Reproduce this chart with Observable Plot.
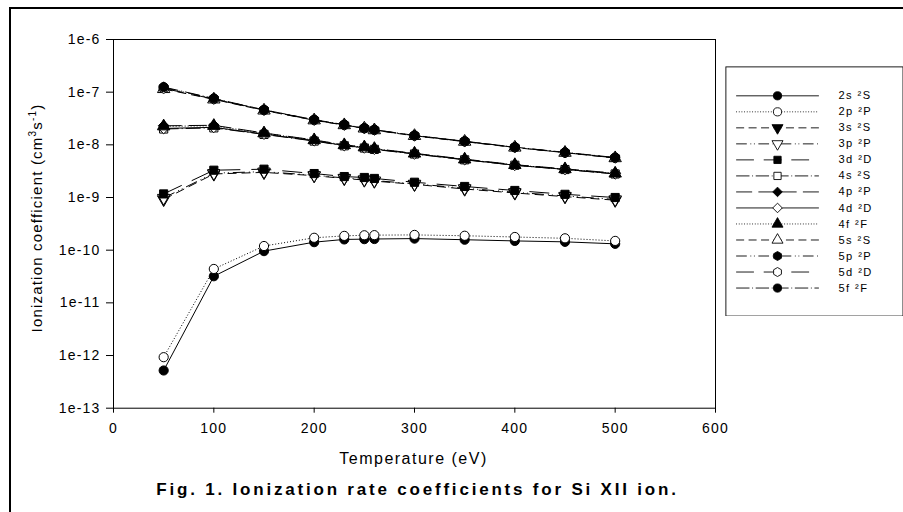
<!DOCTYPE html>
<html>
<head>
<meta charset="utf-8">
<script src="https://cdn.jsdelivr.net/npm/d3@7"></script>
<script src="https://cdn.jsdelivr.net/npm/@observablehq/plot@0.6"></script>
<style>
  body { margin: 0; background: #fff; }
  #fig { position: relative; width: 903px; height: 512px; overflow: hidden; background: #fff;
         font-family: "Liberation Sans", Arial, sans-serif; color: #000; }
  #border { position: absolute; left: 9px; top: 7px; width: 1000px; height: 1000px;
            border-top: 2px solid #000; border-left: 2px solid #000; }
  #chart { position: absolute; left: 0; top: 0; }
  #legend { position: absolute; left: 725px; top: 66px; }
  .ytitle { position: absolute; left: 36px; top: 218px; white-space: nowrap; font-size: 15px;
            letter-spacing: 1.2px; line-height: 15px; transform: translate(-50%, -50%) rotate(-90deg); }
  .ytitle sup { font-size: 10px; line-height: 0; vertical-align: 6px; }
  .xtitle { position: absolute; left: 413.5px; top: 450.5px; white-space: nowrap; font-size: 16px;
            letter-spacing: 1.5px; line-height: 16px; transform: translateX(-50%); }
  .caption { position: absolute; left: 417.5px; top: 480.6px; white-space: nowrap; font-size: 17px;
             font-weight: bold; letter-spacing: 2.8px; line-height: 17px; transform: translateX(-50%); }
</style>
</head>
<body>
<div id="fig">
  <div id="border"></div>
  <div id="chart"></div>
  <div id="legend"></div>
  <div class="ytitle">Ionization coefficient (cm<sup>3</sup>s<sup>-1</sup>)</div>
  <div class="xtitle">Temperature (eV)</div>
  <div class="caption">Fig. 1. Ionization rate coefficients for Si XII ion.</div>
</div>
<script>
// Electron temperatures (eV)
const temperature = [50, 100, 150, 200, 230, 250, 260, 300, 350, 400, 450, 500];

// Ionization rate coefficients (cm^3 s^-1) for each initial level
const rate2s = [5.2e-13, 3.2e-11, 9.6e-11, 1.42e-10, 1.6e-10, 1.62e-10, 1.63e-10, 1.66e-10, 1.58e-10, 1.5e-10, 1.44e-10, 1.32e-10];
const rate2p = [9.3e-13, 4.4e-11, 1.2e-10, 1.72e-10, 1.87e-10, 1.92e-10, 1.93e-10, 1.95e-10, 1.88e-10, 1.78e-10, 1.68e-10, 1.5e-10];
const rate3s = [9.2e-10, 2.8e-9, 3.0e-9, 2.6e-9, 2.3e-9, 2.15e-9, 2.05e-9, 1.78e-9, 1.45e-9, 1.22e-9, 1.04e-9, 8.9e-10];
const rate3p = [9.8e-10, 2.9e-9, 3.1e-9, 2.65e-9, 2.35e-9, 2.2e-9, 2.1e-9, 1.82e-9, 1.5e-9, 1.26e-9, 1.07e-9, 9.2e-10];
const rate3d = [1.17e-9, 3.3e-9, 3.45e-9, 2.85e-9, 2.5e-9, 2.4e-9, 2.3e-9, 1.95e-9, 1.62e-9, 1.36e-9, 1.15e-9, 1.0e-9];
const rate4s = [2.0e-8, 2.1e-8, 1.58e-8, 1.18e-8, 9.6e-9, 8.7e-9, 8.2e-9, 6.7e-9, 5.2e-9, 4.1e-9, 3.4e-9, 2.8e-9];
const rate4p = [2.3e-8, 2.35e-8, 1.68e-8, 1.24e-8, 1.0e-8, 9.1e-9, 8.5e-9, 6.9e-9, 5.35e-9, 4.2e-9, 3.5e-9, 2.9e-9];
const rate4d = [2.05e-8, 2.15e-8, 1.6e-8, 1.2e-8, 9.7e-9, 8.8e-9, 8.3e-9, 6.75e-9, 5.25e-9, 4.1e-9, 3.42e-9, 2.82e-9];
const rate4f = [2.25e-8, 2.3e-8, 1.66e-8, 1.23e-8, 9.9e-9, 9.0e-9, 8.4e-9, 6.85e-9, 5.3e-9, 4.15e-9, 3.46e-9, 2.86e-9];
const rate5s = [1.15e-7, 7.3e-8, 4.5e-8, 2.93e-8, 2.37e-8, 2.05e-8, 1.9e-8, 1.48e-8, 1.15e-8, 8.9e-9, 7.1e-9, 5.6e-9];
const rate5p = [1.22e-7, 7.5e-8, 4.6e-8, 2.98e-8, 2.4e-8, 2.07e-8, 1.93e-8, 1.5e-8, 1.17e-8, 9.0e-9, 7.15e-9, 5.7e-9];
const rate5d = [1.18e-7, 7.4e-8, 4.55e-8, 2.95e-8, 2.38e-8, 2.06e-8, 1.92e-8, 1.49e-8, 1.16e-8, 8.95e-9, 7.1e-9, 5.65e-9];
const rate5f = [1.25e-7, 7.6e-8, 4.62e-8, 3.0e-8, 2.42e-8, 2.08e-8, 1.94e-8, 1.51e-8, 1.17e-8, 9.05e-9, 7.2e-9, 5.75e-9];

const levelNames = ["2s ²S", "2p ²P", "3s ²S", "3p ²P", "3d ²D", "4s ²S", "4p ²P", "4d ²D", "4f ²F", "5s ²S", "5p ²P", "5d ²D", "5f ²F"];
const levelRates = [rate2s, rate2p, rate3s, rate3p, rate3d, rate4s, rate4p, rate4d, rate4f, rate5s, rate5p, rate5d, rate5f];

// Axis ticks
const xTicks = [0, 100, 200, 300, 400, 500, 600];
const yTicks = [1e-6, 1e-7, 1e-8, 1e-9, 1e-10, 1e-11, 1e-12, 1e-13];
const yTickLabels = ["1e-6", "1e-7", "1e-8", "1e-9", "1e-10", "1e-11", "1e-12", "1e-13"];

// Marker shapes (area-based, like d3 symbols)
const sqrt3 = Math.sqrt(3);
const triUp = { draw(c, size) { const y = -Math.sqrt(size / (sqrt3 * 3)); c.moveTo(0, y * 2); c.lineTo(-sqrt3 * y, -y); c.lineTo(sqrt3 * y, -y); c.closePath(); } };
const triDown = { draw(c, size) { const y = Math.sqrt(size / (sqrt3 * 3)); c.moveTo(0, y * 2); c.lineTo(-sqrt3 * y, -y); c.lineTo(sqrt3 * y, -y); c.closePath(); } };
const square = { draw(c, size) { const w = Math.sqrt(size), h = w / 2; c.rect(-h, -h, w, w); } };
const diamond = { draw(c, size) { const r = Math.sqrt(size) * 0.66; c.moveTo(0, -r); c.lineTo(r, 0); c.lineTo(0, r); c.lineTo(-r, 0); c.closePath(); } };
const circle = { draw(c, size) { const r = Math.sqrt(size / Math.PI); c.moveTo(r, 0); c.arc(0, 0, r, 0, 2 * Math.PI); } };
const hexagon = { draw(c, size) { const R = Math.sqrt(size / (1.5 * sqrt3)); for (let k = 0; k < 6; ++k) { const a = Math.PI / 6 + k * Math.PI / 3; const px = R * Math.cos(a), py = R * Math.sin(a); k ? c.lineTo(px, py) : c.moveTo(px, py); } c.closePath(); } };

// Line pattern, marker and fill for each level, in legend order
const styles = [
  { dash: null,              symbol: circle,  filled: true  },
  { dash: "1,2",             symbol: circle,  filled: false },
  { dash: "9,5",             symbol: triDown, filled: true  },
  { dash: "12,4,1,3,1,4",    symbol: triDown, filled: false },
  { dash: "20,11",           symbol: square,  filled: true  },
  { dash: "15,3,1,3",        symbol: square,  filled: false },
  { dash: "18,7",            symbol: diamond, filled: true  },
  { dash: null,              symbol: diamond, filled: false },
  { dash: "1,2",             symbol: triUp,   filled: true  },
  { dash: "9,5",             symbol: triUp,   filled: false },
  { dash: "12,4,1,3,1,4",    symbol: hexagon, filled: true  },
  { dash: "20,11",           symbol: hexagon, filled: false },
  { dash: "15,3,1,3",        symbol: circle,  filled: true  }
];

const markerR = 4.6;
const seriesMarks = [];
levelRates.forEach((rates, i) => {
  const st = styles[i];
  const rows = temperature.map((t, j) => ({ t, v: rates[j] }));
  seriesMarks.push(
    Plot.line(rows, { x: "t", y: "v", stroke: "#000", strokeWidth: 1, strokeLinecap: "butt", strokeLinejoin: "miter", strokeDasharray: st.dash ?? undefined }),
    Plot.dot(rows, { x: "t", y: "v", r: markerR, symbol: st.symbol, fill: st.filled ? "#000" : "#fff", stroke: "#000", strokeWidth: 1 })
  );
});

const yLabelOf = new Map(yTicks.map((v, i) => [v, yTickLabels[i]]));

const chart = Plot.plot({
  width: 720,
  height: 440,
  marginLeft: 113,
  marginTop: 39,
  marginRight: 5,
  marginBottom: 32.3,
  style: { fontFamily: "'Liberation Sans', Arial, sans-serif", fontSize: "14px", letterSpacing: "1.2px", color: "#000", background: "transparent", overflow: "visible" },
  x: { domain: [0, 600] },
  y: { type: "log", domain: [1e-13, 1e-6] },
  marks: [
    ...seriesMarks,
    Plot.frame({ stroke: "#000", strokeWidth: 1 }),
    Plot.axisX({ ticks: xTicks, tickSize: 5, tickPadding: 10, tickFormat: d => String(d), label: null, fontSize: 14 }),
    Plot.axisY({ ticks: yTicks, tickSize: 7, tickPadding: 6, tickFormat: d => yLabelOf.get(d), label: null, fontSize: 14 })
  ]
});
document.getElementById("chart").appendChild(chart);

// Legend: a line sample, marker and name per level
const sampleX = [0, 1];
const legendMarks = [Plot.frame({ stroke: "#000", strokeWidth: 1 })];
levelNames.forEach((name, i) => {
  const st = styles[i];
  legendMarks.push(
    Plot.line(sampleX.map(x => ({ x, name })), { x: "x", y: "name", stroke: "#000", strokeWidth: 1, strokeLinecap: "butt", strokeDasharray: st.dash ?? undefined }),
    Plot.dot([{ x: 0.5, name }], { x: "x", y: "name", r: markerR, symbol: st.symbol, fill: st.filled ? "#000" : "#fff", stroke: "#000", strokeWidth: 1 }),
    Plot.text([{ x: 1, name }], { x: "x", y: "name", text: "name", textAnchor: "start", dx: 22, fontSize: 12.5, fill: "#000" })
  );
});
const legend = Plot.plot({
  width: 200,
  height: 281,
  margin: 0.5,
  style: { fontFamily: "'Liberation Sans', Arial, sans-serif", fontSize: "12.5px", letterSpacing: "1.6px", color: "#000", background: "#fff" },
  x: { domain: [0, 1], range: [12, 105], axis: null },
  y: { type: "point", domain: levelNames, range: [20, 262], axis: null },
  marks: legendMarks
});
document.getElementById("legend").appendChild(legend);
</script>
</body>
</html>
